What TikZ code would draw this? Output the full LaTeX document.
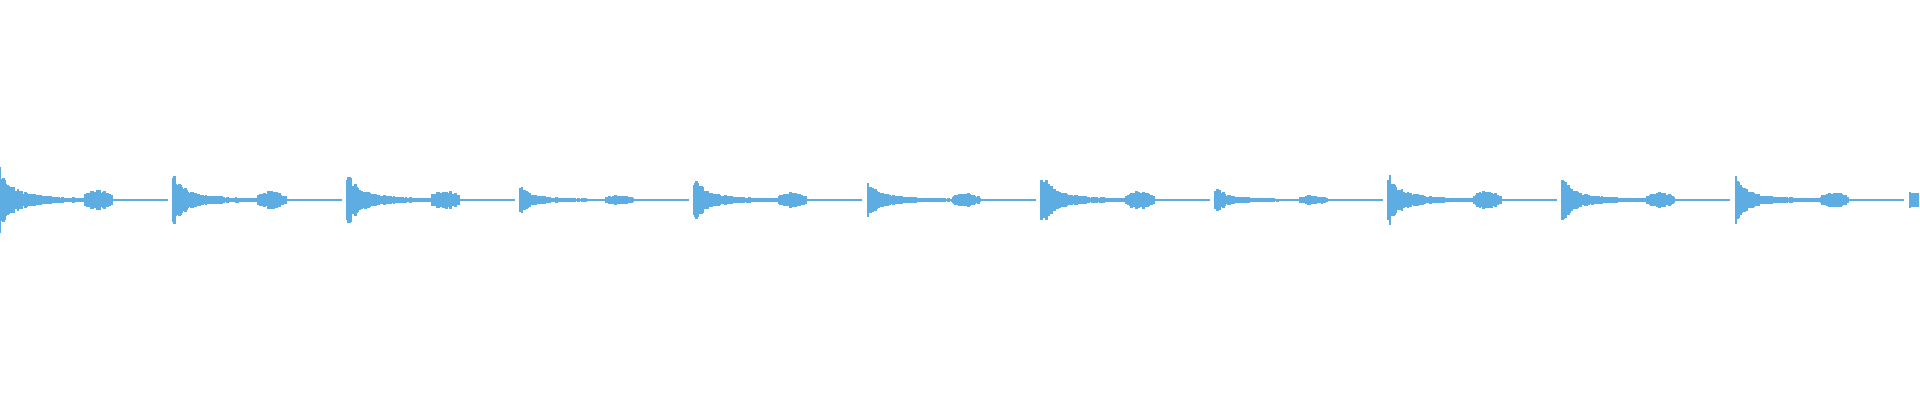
\documentclass[tikz,border=0pt]{standalone}
\usepackage{tikz}
\definecolor{wave}{RGB}{93,173,226}
\tikzset{sample/.style={wave,line width=0.8pt}}

\begin{document}
\begin{tikzpicture}
\useasboundingbox (0,0) rectangle (19.2,4);
\pgfmathsetseed{7}
% one burst per beat: onset, decay, small second hit, flat tail
\foreach \s/\a in {0/0.34,1.736/0.28,3.472/0.30,5.208/0.14,6.944/0.24,8.68/0.20,10.416/0.28,12.152/0.14,13.888/0.28,15.624/0.24,17.36/0.24}{
  \draw[sample,line width=0.4pt] (\s,2.0) -- ++(1.68,0);
  \foreach \t in {0,0.012,...,1.3}{
    \pgfmathsetmacro{\h}{\a*(0.7*exp(-\t/0.09)+0.3*exp(-\t/0.45))*(0.6+0.4*rnd)+(\t>0.84)*(\t<1.12)*0.28*\a*(0.6+0.4*rnd)*(0.4+0.6*sin(180*(\t-0.84)/0.28))+0.006}
    \draw[sample] (\s+\t,2.0-\h) -- (\s+\t,2.0+\h);
  }
}
% last burst cut by the right edge
\foreach \t in {0,0.012,...,0.08}{
  \pgfmathsetmacro{\h}{0.09*(0.7+0.3*rnd)}
  \draw[sample] (19.1+\t,2.0-\h) -- (19.1+\t,2.0+\h);
}
\end{tikzpicture}
\end{document}
